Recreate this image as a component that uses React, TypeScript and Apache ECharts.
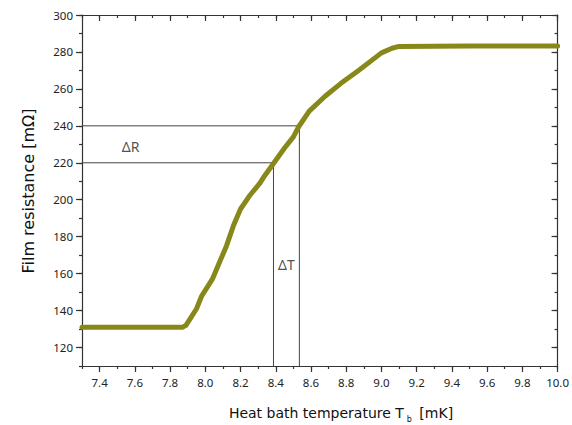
import React, { useEffect, useRef } from "react";
import * as echarts from "echarts";

// Film resistance transition curve
const tempX = [7.3, 7.6, 7.87, 7.89, 7.91, 7.95, 7.98, 8.04, 8.08, 8.12, 8.16, 8.2, 8.25, 8.31, 8.33, 8.39, 8.45, 8.5, 8.53, 8.59, 8.68, 8.77, 8.87, 9.0, 9.06, 9.1, 9.5, 10.0];
const resistance = [131, 131, 131, 132, 135, 141, 148, 157, 166, 175, 186, 195, 202, 209, 212, 220, 228, 234, 239.5, 248, 256, 263, 270, 279.5, 282, 283, 283.2, 283.2];

// Axis ranges and tick labels
const xMin = 7.3;
const xMax = 10.0;
const yMin = 110;
const yMax = 300;
const xMajorTicks = [7.4, 7.6, 7.8, 8.0, 8.2, 8.4, 8.6, 8.8, 9.0, 9.2, 9.4, 9.6, 9.8, 10.0];
const yMajorTicks = [120, 140, 160, 180, 200, 220, 240, 260, 280, 300];

// ΔR / ΔT construction
const tLow = 8.387;
const tHigh = 8.534;
const rLow = 220;
const rHigh = 240;
const deltaRLabel = { x: 7.576, y: 228.6, text: "ΔR" };
const deltaTLabel = { x: 8.46, y: 164.9, text: "ΔT" };

const AXIS_COLOR = "#333";
const FONT = "Noto Sans";
const TITLE_FONT = "DejaVu Sans";

export default function App() {
  const ref = useRef<HTMLDivElement>(null);

  useEffect(() => {
    if (!ref.current) return;
    const chart = echarts.init(ref.current, undefined, { renderer: "svg" });

    const baseX = (position: "bottom" | "top", major: boolean, showLine: boolean, showLabel: boolean) => ({
      type: "value" as const,
      position,
      min: xMin,
      max: xMax,
      interval: 0.1,
      axisLine: { show: showLine, onZero: false, lineStyle: { color: AXIS_COLOR, width: 1.2 } },
      axisTick: {
        show: true,
        inside: position === "top",
        length: major ? 6 : 3,
        lineStyle: { color: AXIS_COLOR, width: 1.2 },
        ...(major ? { customValues: xMajorTicks } : {}),
      },
      axisLabel: showLabel
        ? {
            show: true,
            margin: 10,
            color: "#222",
            fontFamily: FONT,
            fontSize: 11.5,
            formatter: (v: number) => (Math.round(v * 10) % 2 === 0 ? v.toFixed(1) : ""),
          }
        : { show: false },
      splitLine: { show: false },
    });

    const baseY = (position: "left" | "right", major: boolean, showLine: boolean, showLabel: boolean) => ({
      type: "value" as const,
      position,
      min: yMin,
      max: yMax,
      interval: 10,
      axisLine: { show: showLine, onZero: false, lineStyle: { color: AXIS_COLOR, width: 1.2 } },
      axisTick: {
        show: true,
        inside: position === "right",
        length: major ? 6 : 3,
        lineStyle: { color: AXIS_COLOR, width: 1.2 },
        ...(major ? { customValues: yMajorTicks } : {}),
      },
      axisLabel: showLabel
        ? {
            show: true,
            margin: 9,
            color: "#222",
            fontFamily: FONT,
            fontSize: 11.5,
            formatter: (v: number) => (Math.round(v) % 20 === 0 ? String(v) : ""),
          }
        : { show: false },
      splitLine: { show: false },
    });

    const refLine = (pts: number[][]) => ({
      type: "line" as const,
      data: pts,
      symbol: "none",
      silent: true,
      z: 1,
      lineStyle: { color: "#444", width: 1 },
    });

    chart.setOption({
      animation: false,
      backgroundColor: "#ffffff",
      grid: { left: 82, right: 11, top: 15, bottom: 59, containLabel: false },
      xAxis: [
        baseX("bottom", false, true, true),
        baseX("bottom", true, false, false),
        baseX("top", false, true, false),
        baseX("top", true, false, false),
      ],
      yAxis: [
        baseY("left", false, true, true),
        baseY("left", true, false, false),
        baseY("right", false, true, false),
        baseY("right", true, false, false),
      ],
      graphic: [
        {
          type: "text",
          x: 341,
          y: 413,
          style: {
            text: "Heat bath temperature T{sub|b} [mK]",
            fill: "#111",
            font: `14px '${TITLE_FONT}'`,
            textAlign: "center",
            textVerticalAlign: "middle",
            rich: {
              sub: { fontSize: 8, verticalAlign: "bottom", padding: [12, 3, 0, 3], fontFamily: TITLE_FONT },
            },
          },
        },
        {
          type: "text",
          x: 28,
          y: 191,
          rotation: Math.PI / 2,
          style: {
            text: "Film resistance [mΩ]",
            fill: "#111",
            font: `16px '${TITLE_FONT}'`,
            textAlign: "center",
            textVerticalAlign: "middle",
          },
        },
      ],
      series: [
        refLine([[xMin, rHigh], [tHigh, rHigh], [tHigh, yMin]]),
        refLine([[xMin, rLow], [tLow, rLow], [tLow, yMin]]),
        {
          type: "line",
          data: tempX.map((x, i) => [x, resistance[i]]),
          symbol: "none",
          z: 3,
          lineStyle: { color: "#88881a", width: 5, cap: "round", join: "round" },
        },
        {
          type: "scatter",
          symbolSize: 0,
          silent: true,
          z: 4,
          data: [
            [deltaRLabel.x, deltaRLabel.y, deltaRLabel.text],
            [deltaTLabel.x, deltaTLabel.y, deltaTLabel.text],
          ],
          label: {
            show: true,
            position: "inside",
            formatter: (p: any) => p.data[2],
            color: "#222",
            fontFamily: FONT,
            fontSize: 14,
          },
        },
      ],
    });

    return () => chart.dispose();
  }, []);

  return (
    <div
      ref={ref}
      style={{ position: "fixed", left: 0, top: 0, width: 572, height: 425, background: "#fff" }}
    />
  );
}
